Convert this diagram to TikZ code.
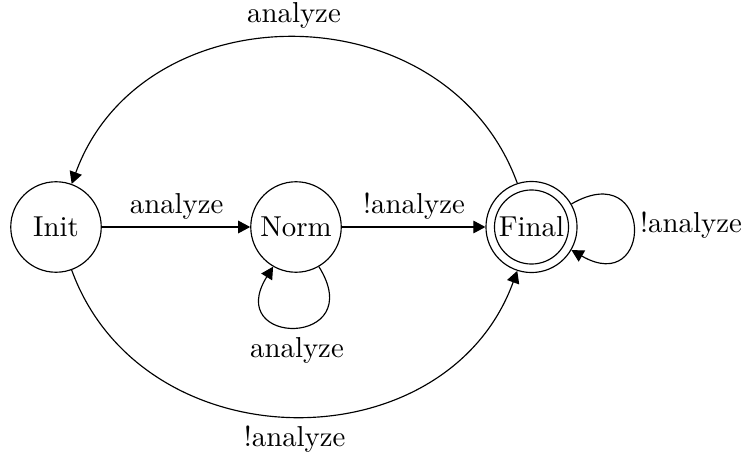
\documentclass[tikz,border=0pt]{standalone}
\usetikzlibrary{arrows.meta}
\begin{document}
\begin{tikzpicture}[x=0.347pt,y=0.347pt,
  statenode/.style={circle,draw,line width=0.4pt,minimum size=31.4pt,inner sep=0pt},
  innerring/.style={circle,draw,line width=0.4pt,minimum size=25.7pt,inner sep=0pt},
  arr/.style={-{Triangle[length=4.2pt,width=4.4pt]},line width=0.4pt},
  lbl/.style={inner sep=0pt}]
\useasboundingbox (0,0) rectangle (744,454);
\node[statenode] (init) at (56,227) {Init};
\node[statenode] (norm) at (296,227) {Norm};
\node[statenode,minimum size=31.6pt] (final) at (531.5,227) {};
\node[innerring] (finalin) at (final.center) {Final};
% straight edges
\draw[arr] (init) -- (norm);
\draw[arr] (norm) -- (final);
% top arc Final -> Init
\draw[arr] (final.108) to[out=110,in=70,distance=71.8pt] (init.70);
% bottom arc Init -> Final
\draw[arr] (init.-70) to[out=-70,in=-110,distance=71.8pt] (final.-108);
% self loops
\draw[arr] (norm.-60) to[out=-58,in=-122,distance=33pt] (norm.-120);
\draw[arr] (final.30) to[out=30,in=-30,distance=33pt] (final.-30);
% labels
\node[lbl] (l1) at (176.7,247.5) {analyze};
\node[lbl] (l2) at (414,247.5) {!analyze};
\node[lbl] (l3) at (294,438.2) {analyze};
\node[lbl] (l4) at (294.7,15) {!analyze};
\node[lbl] (l5) at (297,104) {analyze};
\node[lbl] (l6) at (691,229) {!analyze};
\end{tikzpicture}
\end{document}
